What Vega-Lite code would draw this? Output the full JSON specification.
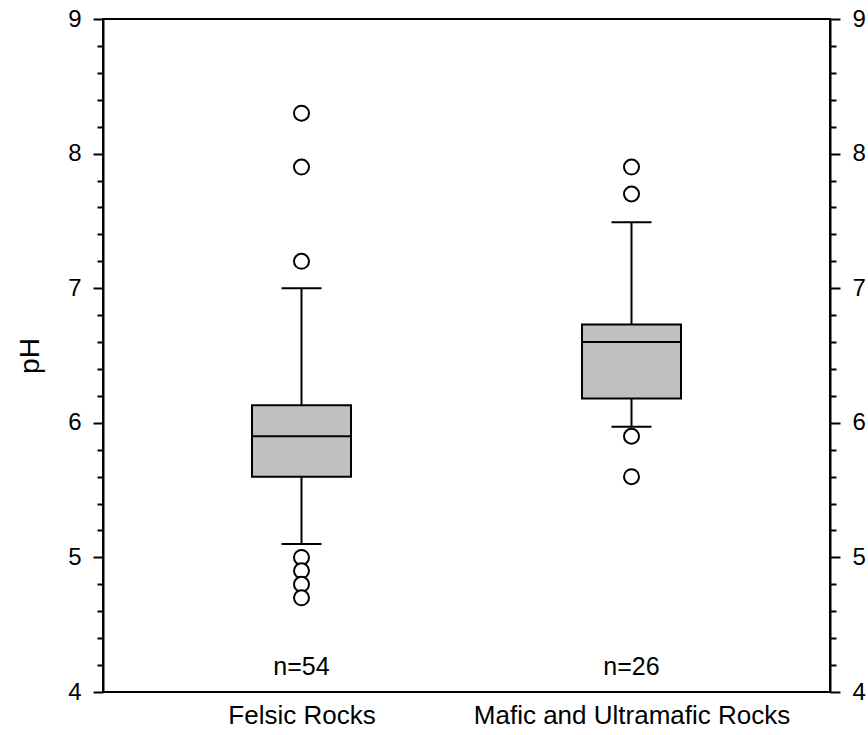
{
  "$schema": "https://vega.github.io/schema/vega-lite/v6.json",
  "autosize": {"type": "none"},
  "padding": {"left": 103, "top": 19, "right": 38, "bottom": 43},
  "width": 727,
  "height": 673,
  "background": "white",
  "config": {
    "view": {"stroke": "black", "strokeWidth": 2},
    "font": "Liberation Sans"
  },
  "datasets": {
    "boxes": [
      {"group": "Felsic Rocks", "lower": 5.1, "q1": 5.6, "median": 5.9, "q3": 6.13, "upper": 7.0, "label": "n=54"},
      {"group": "Mafic and Ultramafic Rocks", "lower": 5.97, "q1": 6.18, "median": 6.6, "q3": 6.73, "upper": 7.49, "label": "n=26"}
    ],
    "outliers": [
      {"group": "Felsic Rocks", "value": 8.3},
      {"group": "Felsic Rocks", "value": 7.9},
      {"group": "Felsic Rocks", "value": 7.2},
      {"group": "Felsic Rocks", "value": 5.0},
      {"group": "Felsic Rocks", "value": 4.9},
      {"group": "Felsic Rocks", "value": 4.8},
      {"group": "Felsic Rocks", "value": 4.7},
      {"group": "Mafic and Ultramafic Rocks", "value": 7.9},
      {"group": "Mafic and Ultramafic Rocks", "value": 7.7},
      {"group": "Mafic and Ultramafic Rocks", "value": 5.9},
      {"group": "Mafic and Ultramafic Rocks", "value": 5.6}
    ]
  },
  "encoding": {
    "x": {
      "field": "group", "type": "nominal",
      "sort": ["Felsic Rocks", "Mafic and Ultramafic Rocks"],
      "scale": {"type": "point", "padding": 0.6015},
      "axis": {
        "title": null, "ticks": false, "domain": false, "orient": "bottom",
        "labelAngle": 0, "labelFontSize": 26, "labelColor": "black",
        "labelFont": "Liberation Sans", "labelPadding": 10,
        "labelOverlap": false, "labelBound": false, "labelLimit": 500
      }
    }
  },
  "layer": [
    {
      "data": {"name": "boxes"},
      "mark": {"type": "rule", "color": "black", "strokeWidth": 2},
      "encoding": {
        "y": {
          "field": "lower", "type": "quantitative",
          "scale": {"domain": [4, 9], "nice": false, "zero": false},
          "axis": {
            "orient": "left",
            "values": [4, 4.2, 4.4, 4.6, 4.8, 5, 5.2, 5.4, 5.6, 5.8, 6, 6.2, 6.4, 6.6, 6.8, 7, 7.2, 7.4, 7.6, 7.8, 8, 8.2, 8.4, 8.6, 8.8, 9],
            "labelExpr": "abs(datum.value - round(datum.value)) < 0.01 ? toString(round(datum.value)) : ''",
            "tickSize": {"condition": {"test": "abs(datum.value - round(datum.value)) < 0.01", "value": 10}, "value": 6},
            "tickWidth": 2, "tickColor": "black",
            "domainColor": "black", "domainWidth": 2,
            "grid": false,
            "labelFontSize": 24, "labelColor": "black", "labelFont": "Liberation Sans",
            "labelPadding": 12, "labelFlush": false, "labelOverlap": false,
            "title": "pH", "titleFontSize": 28, "titleFontWeight": "normal",
            "titleColor": "black", "titleFont": "Liberation Sans", "titlePadding": 23
          }
        },
        "y2": {"field": "upper"}
      }
    },
    {
      "data": {"name": "boxes"},
      "mark": {"type": "tick", "color": "black", "size": 40, "thickness": 2, "opacity": 1},
      "encoding": {
        "y": {
          "field": "lower", "type": "quantitative",
          "scale": {"domain": [4, 9], "nice": false, "zero": false},
          "axis": {
            "orient": "right",
            "values": [4, 4.2, 4.4, 4.6, 4.8, 5, 5.2, 5.4, 5.6, 5.8, 6, 6.2, 6.4, 6.6, 6.8, 7, 7.2, 7.4, 7.6, 7.8, 8, 8.2, 8.4, 8.6, 8.8, 9],
            "labelExpr": "abs(datum.value - round(datum.value)) < 0.01 ? toString(round(datum.value)) : ''",
            "tickSize": {"condition": {"test": "abs(datum.value - round(datum.value)) < 0.01", "value": 10}, "value": 6},
            "tickWidth": 2, "tickColor": "black",
            "domainColor": "black", "domainWidth": 2,
            "grid": false,
            "labelFontSize": 24, "labelColor": "black", "labelFont": "Liberation Sans",
            "labelPadding": 12, "labelFlush": false, "labelOverlap": false,
            "title": null
          }
        }
      }
    },
    {
      "data": {"name": "boxes"},
      "mark": {"type": "tick", "color": "black", "size": 40, "thickness": 2, "opacity": 1},
      "encoding": {
        "y": {"field": "upper", "type": "quantitative", "scale": {"domain": [4, 9], "nice": false, "zero": false}, "axis": null}
      }
    },
    {
      "data": {"name": "boxes"},
      "mark": {"type": "bar", "size": 99, "fill": "#c0c0c0", "stroke": "black", "strokeWidth": 2, "opacity": 1},
      "encoding": {
        "y": {"field": "q1", "type": "quantitative", "scale": {"domain": [4, 9], "nice": false, "zero": false}, "axis": null},
        "y2": {"field": "q3"}
      }
    },
    {
      "data": {"name": "boxes"},
      "mark": {"type": "tick", "color": "black", "size": 98, "thickness": 2, "opacity": 1},
      "encoding": {
        "y": {"field": "median", "type": "quantitative", "scale": {"domain": [4, 9], "nice": false, "zero": false}, "axis": null}
      }
    },
    {
      "data": {"name": "outliers"},
      "mark": {"type": "point", "shape": "circle", "filled": true, "fill": "white", "stroke": "black", "strokeWidth": 2, "size": 225, "opacity": 1},
      "encoding": {
        "y": {"field": "value", "type": "quantitative", "scale": {"domain": [4, 9], "nice": false, "zero": false}, "axis": null}
      }
    },
    {
      "data": {"name": "boxes"},
      "mark": {"type": "text", "fontSize": 25, "font": "Liberation Sans", "color": "black", "baseline": "alphabetic", "align": "center"},
      "encoding": {
        "y": {"datum": 4.13, "type": "quantitative", "scale": {"domain": [4, 9], "nice": false, "zero": false}, "axis": null},
        "text": {"field": "label"}
      }
    }
  ],
  "resolve": {"axis": {"y": "independent"}}
}
